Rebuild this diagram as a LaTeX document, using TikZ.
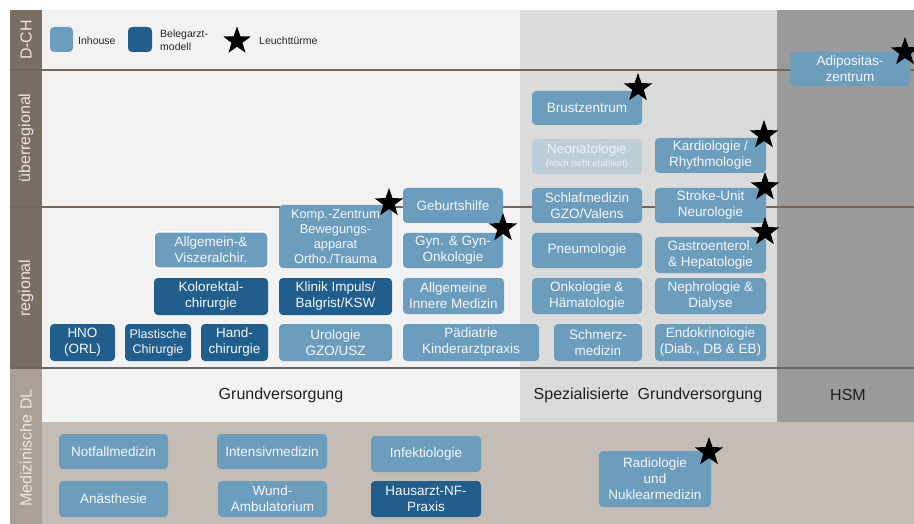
\documentclass[tikz,border=0pt]{standalone}
\usepackage{fontspec}
\setmainfont{Liberation Sans}
\usetikzlibrary{shapes.geometric}
\definecolor{barDark}{RGB}{122,110,99}
\definecolor{barLight}{RGB}{170,160,151}
\definecolor{bgA}{RGB}{242,242,242}
\definecolor{bgB}{RGB}{219,219,219}
\definecolor{bgC}{RGB}{155,155,155}
\definecolor{bgBottom}{RGB}{196,189,182}
\definecolor{lineC}{RGB}{112,102,93}
\definecolor{inhC}{RGB}{108,157,189}
\definecolor{belC}{RGB}{33,94,139}
\definecolor{neoC}{RGB}{189,206,216}
\definecolor{neoT}{RGB}{236,242,246}
\definecolor{barText}{RGB}{235,231,227}
\definecolor{boxT}{RGB}{245,247,249}
\newcommand\mybox[7]{\node[#1, minimum width={(#5-#3)*1pt}, minimum height={(#6-#4)*1pt}] (#2) at ({(#3+#5)/2},{(#4+#6)/2}) {#7};}
\begin{document}
\begin{tikzpicture}[x=1pt,y=-1pt,
  box/.style={rounded corners=4pt, inner sep=0pt, align=center, text=boxT, font=\fontsize{13.5}{16}\selectfont},
  inh/.style={box, fill=inhC},
  bel/.style={box, fill=belC},
  lstar/.style={star, star points=5, star point ratio=2.5, fill=black, draw=none, minimum size=30pt, inner sep=0pt},
  barlabel/.style={rotate=90, text=barText, font=\fontsize{16}{18}\selectfont},
  head/.style={text=black!88, font=\fontsize{16}{18}\selectfont},
  legtext/.style={font=\fontsize{10.5}{13}\selectfont, text=black!85, align=left, anchor=west, inner sep=0pt},
  sepline/.style={draw=lineC, line width=1.8pt}]
\useasboundingbox (0,0) rectangle (914,524);
% backgrounds
\fill[white] (0,0) rectangle (914,524);
\fill[barDark] (10,10) rectangle (42,368);
\fill[barLight] (10,368) rectangle (42,524);
\fill[bgA] (42,10) rectangle (520,422);
\fill[bgB] (520,10) rectangle (777,422);
\fill[bgC] (777,10) rectangle (914,422);
\fill[bgBottom] (42,422) rectangle (914,524);
\draw[sepline] (10,70) -- (914,70);
\draw[sepline] (10,207) -- (914,207);
\draw[sepline] (10,368) -- (914,368);
% bar labels
\node[barlabel] (lDCH) at (26,40) {D-CH};
\node[barlabel] (lUeber) at (26,138) {überregional};
\node[barlabel] (lReg) at (26,288) {regional};
\node[barlabel] (lMed) at (26,448) {Medizinische DL};
% headings
\node[head] (hGrund) at (281,395) {Grundversorgung};
\node[head] (hSpez) at (648,395) {Spezialisierte\ \ Grundversorgung};
\node[head] (hHSM) at (848,395) {HSM};
% legend
\mybox{inh}{legInh}{50}{27}{73}{52}{}
\node[legtext] (legInhT) at (78,41) {Inhouse};
\mybox{bel}{legBel}{128}{27}{152}{52}{}
\node[legtext] (legBelT) at (160,40) {Belegarzt-\\modell};
\node[lstar, minimum size=29pt] (legStar) at (237,41) {};
\node[legtext] (legStarT) at (259,41) {Leuchttürme};
% D-CH / ueberregional
\mybox{inh}{adip}{790}{52}{910}{86}{Adipositas-\\zentrum}
\mybox{inh}{brust}{532}{91}{642}{125}{Brustzentrum}
\node[box, fill=neoC, text=neoT, minimum width=110pt, minimum height=35pt] (neo) at (587,156.5) {Neonatologie\\[-3pt]{\fontsize{9}{10}\selectfont (noch nicht etabliert)}};
\mybox{inh}{kardio}{655}{138}{766}{173}{Kardiologie /\\Rhythmologie}
\mybox{inh}{schlaf}{532}{188}{642}{223}{Schlafmedizin\\GZO/Valens}
\mybox{inh}{stroke}{655}{188}{766}{223}{Stroke-Unit\\Neurologie}
\mybox{inh}{geburt}{403}{188}{503}{223}{Geburtshilfe}
% regional
\mybox{inh,font=\fontsize{12.8}{15}\selectfont}{komp}{279}{205}{392}{268}{Komp.-Zentrum\\Bewegungs-\\apparat\\Ortho./Trauma}
\mybox{inh}{gyn}{403}{233}{503}{268}{Gyn. \& Gyn-\\Onkologie}
\mybox{inh,draw=white,line width=1.5pt}{allg}{154}{232}{268}{268}{Allgemein-\&\\Viszeralchir.}
\mybox{bel}{kolo}{154}{278}{268}{315}{Kolorektal-\\chirurgie}
\mybox{bel}{klinik}{279}{278}{392}{315}{Klinik Impuls/\\Balgrist/KSW}
\mybox{bel}{hno}{50}{324}{115}{361}{HNO\\(ORL)}
\mybox{bel,font=\fontsize{12.5}{15}\selectfont}{plast}{125}{324}{191}{361}{Plastische\\Chirurgie}
\mybox{bel}{hand}{201}{324}{268}{361}{Hand-\\chirurgie}
\mybox{inh}{uro}{279}{324}{392}{361}{Urologie\\GZO/USZ}
\mybox{inh}{aim}{403}{278}{504}{314}{Allgemeine\\Innere Medizin}
\mybox{inh}{paed}{403}{324}{539}{361}{Pädiatrie\\Kinderarztpraxis}
\mybox{inh}{pneu}{532}{233}{642}{268}{Pneumologie}
\mybox{inh}{onko}{532}{278}{642}{314}{Onkologie \&\\Hämatologie}
\mybox{inh}{schmerz}{554}{324}{642}{361}{Schmerz-\\medizin}
\mybox{inh}{gastro}{655}{237}{766}{273}{Gastroenterol.\\\& Hepatologie}
\mybox{inh}{nephro}{655}{278}{766}{314}{Nephrologie \&\\Dialyse}
\mybox{inh}{endo}{655}{324}{766}{361}{Endokrinologie\\(Diab., DB \& EB)}
% medizinische DL
\mybox{inh}{notf}{59}{434}{168}{469}{Notfallmedizin}
\mybox{inh}{anae}{59}{481}{168}{517}{Anästhesie}
\mybox{inh}{intens}{217}{434}{327}{469}{Intensivmedizin}
\mybox{inh}{wund}{218}{481}{327}{517}{Wund-\\Ambulatorium}
\mybox{inh}{infekt}{371}{436}{481}{472}{Infektiologie}
\mybox{bel}{haus}{371}{481}{481}{517}{Hausarzt-NF-\\Praxis}
\mybox{inh}{radio}{599}{451}{711}{507}{Radiologie\\und\\Nuklearmedizin}
% stars
\node[lstar] (sAdip) at (905,52) {};
\node[lstar] (sBrust) at (638,88) {};
\node[lstar] (sKardio) at (764,135) {};
\node[lstar] (sStroke) at (765,187) {};
\node[lstar] (sGastro) at (765,232) {};
\node[lstar] (sKomp) at (389,203) {};
\node[lstar] (sGyn) at (503,228) {};
\node[lstar] (sRadio) at (709,452) {};
\end{tikzpicture}
\end{document}
